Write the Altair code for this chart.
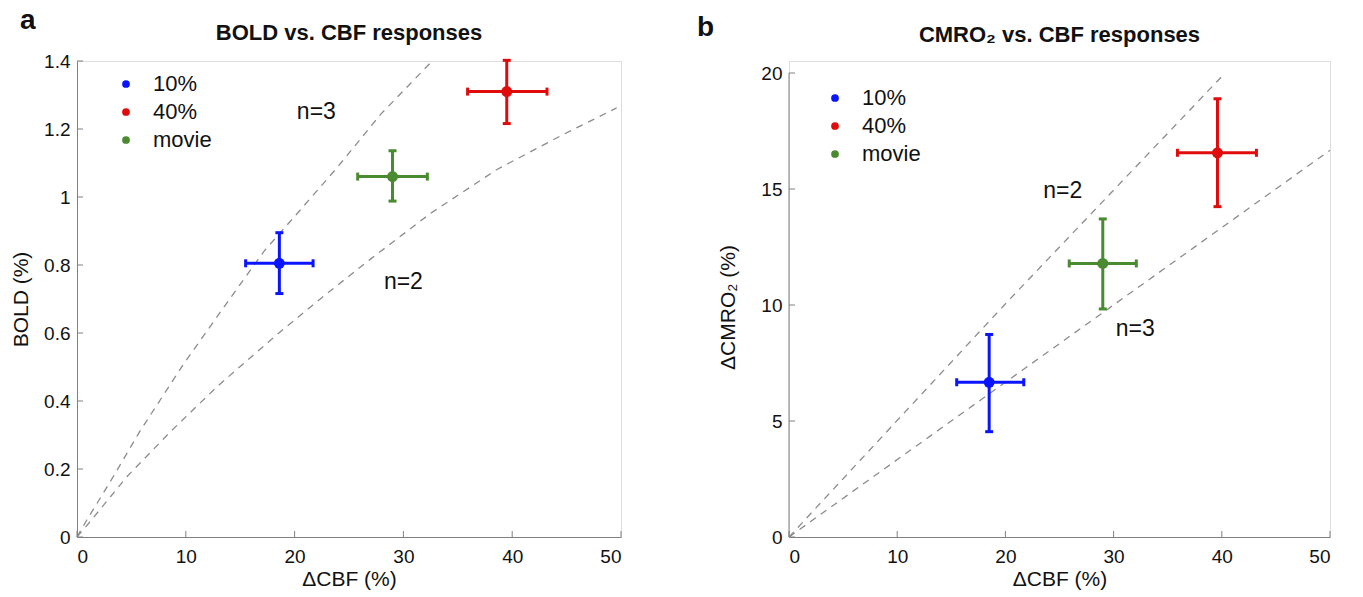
import altair as alt
import pandas as pd

FONT = "Liberation Sans"
AXIS_COLOR = "#808080"
CURVE_COLOR = "#8c8c8c"

conditions = ["10%", "40%", "movie"]
cond_colors = ["#0a14ff", "#e00c0c", "#4a8a30"]

# ---- panel a : BOLD vs CBF ----
a_cbf = [18.6, 39.5, 29.0]
a_cbf_lo = [15.5, 35.9, 25.8]
a_cbf_hi = [21.7, 43.2, 32.2]
a_bold = [0.805, 1.31, 1.06]
a_bold_lo = [0.716, 1.216, 0.988]
a_bold_hi = [0.895, 1.402, 1.136]

a_n3_x = [0, 0.9, 3.1, 5.8, 9.8, 13.9, 17.2, 20.2, 23.9, 27.9, 32.5]
a_n3_y = [0, 0.05, 0.165, 0.312, 0.509, 0.694, 0.841, 0.95, 1.086, 1.243, 1.395]
a_n2_x = [0, 1.2, 4.6, 8.6, 12.9, 18.4, 22.5, 27.0, 32.5, 38.6, 44.7, 49.6]
a_n2_y = [0, 0.045, 0.178, 0.31, 0.443, 0.596, 0.704, 0.818, 0.952, 1.081, 1.184, 1.262]

a_label_text = ["n=3", "n=2"]
a_label_x = [22.0, 30.0]
a_label_y = [1.251, 0.749]

a_xticks = [0, 10, 20, 30, 40, 50]
a_yticks = [0, 0.2, 0.4, 0.6, 0.8, 1.0, 1.2, 1.4]

# ---- panel b : CMRO2 vs CBF ----
b_cbf = [18.5, 39.6, 29.0]
b_cbf_lo = [15.5, 35.9, 25.9]
b_cbf_hi = [21.7, 43.2, 32.1]
b_cmro2 = [6.67, 16.56, 11.79]
b_cmro2_lo = [4.54, 14.24, 9.83]
b_cmro2_hi = [8.73, 18.89, 13.71]

b_n2_x = [0, 20.1, 40.1]
b_n2_y = [0, 10.1, 19.9]
b_n3_x = [0, 29.0, 50.0]
b_n3_y = [0, 9.67, 16.67]

b_label_text = ["n=2", "n=3"]
b_label_x = [25.3, 32.0]
b_label_y = [14.9, 8.97]

b_xticks = [0, 10, 20, 30, 40, 50]
b_yticks = [0, 5, 10, 15, 20]


def panel(cbf, cbf_lo, cbf_hi, val, val_lo, val_hi, curves, labels,
          xticks, yticks, ydomain, W, H, xtitle, ytitle, title, title_dy,
          letter, letter_x, letter_y, legend_x, legend_y, ytitle_pad,
          draw_yline, yformat, ytitle_y):
    pts = pd.DataFrame({"cond": conditions, "x": cbf, "xlo": cbf_lo, "xhi": cbf_hi,
                        "y": val, "ylo": val_lo, "yhi": val_hi})
    rows = []
    for name, xs, ys in curves:
        for i, (xx, yy) in enumerate(zip(xs, ys)):
            rows.append({"curve": name, "x": xx, "y": yy, "o": i})
    cdf = pd.DataFrame(rows)
    ldf = pd.DataFrame({"t": labels[0], "x": labels[1], "y": labels[2]})

    xscale = alt.Scale(domain=[xticks[0], xticks[-1]], nice=False, zero=False)
    yscale = alt.Scale(domain=ydomain, nice=False, zero=False)
    xaxis = alt.Axis(values=xticks, format="d", tickSize=0, grid=False,
                     domainColor=AXIS_COLOR, labelFontSize=19, labelColor="#111111",
                     labelPadding=10, titleFontSize=21, titleFontWeight="normal",
                     titleColor="#111111", titlePadding=2, labelFont=FONT, titleFont=FONT)
    yaxis = alt.Axis(values=yticks, format=yformat, tickSize=0, grid=False,
                     domain=not draw_yline,
                     domainColor=AXIS_COLOR, labelFontSize=19, labelColor="#111111",
                     labelPadding=7, titleFontSize=21, titleFontWeight="normal",
                     titleColor="#111111", titlePadding=ytitle_pad, labelFont=FONT,
                     titleFont=FONT, titleY=ytitle_y)
    X = alt.X("x:Q", scale=xscale, axis=xaxis, title=xtitle)
    Y = alt.Y("y:Q", scale=yscale, axis=yaxis, title=ytitle)
    XLO = alt.X("xlo:Q", scale=xscale, axis=xaxis, title=xtitle)
    XHI = alt.X("xhi:Q", scale=xscale, axis=xaxis, title=xtitle)
    YLO = alt.Y("ylo:Q", scale=yscale, axis=yaxis, title=ytitle)
    YHI = alt.Y("yhi:Q", scale=yscale, axis=yaxis, title=ytitle)

    cscale = alt.Scale(domain=conditions, range=cond_colors)
    nocolor = alt.Color("cond:N", scale=cscale, legend=None)
    color = alt.Color("cond:N", scale=cscale,
                      legend=alt.Legend(title=None, orient="none", legendX=legend_x,
                                        legendY=legend_y, symbolType="circle",
                                        symbolSize=60, symbolStrokeWidth=0,
                                        symbolOpacity=1,
                                        labelFontSize=22, labelFont=FONT,
                                        labelColor="#111111", labelOffset=16,
                                        rowPadding=6, padding=0))

    lines = alt.Chart(cdf).mark_line(color=CURVE_COLOR, strokeWidth=1.3,
                                     strokeDash=[7, 6]).encode(
        x=X, y=Y, detail="curve:N", order="o:Q")

    xbar = alt.Chart(pts).mark_rule(strokeWidth=3).encode(
        x=XLO, x2="xhi:Q", y=Y, color=nocolor)
    ybar = alt.Chart(pts).mark_rule(strokeWidth=3).encode(
        x=X, y=YLO, y2="yhi:Q", color=nocolor)
    xcap_lo = alt.Chart(pts).mark_tick(orient="vertical", size=8, thickness=3, opacity=1).encode(
        x=XLO, y=Y, color=nocolor)
    xcap_hi = alt.Chart(pts).mark_tick(orient="vertical", size=8, thickness=3, opacity=1).encode(
        x=XHI, y=Y, color=nocolor)
    ycap_lo = alt.Chart(pts).mark_tick(orient="horizontal", size=8, thickness=3, opacity=1).encode(
        x=X, y=YLO, color=nocolor)
    ycap_hi = alt.Chart(pts).mark_tick(orient="horizontal", size=8, thickness=3, opacity=1).encode(
        x=X, y=YHI, color=nocolor)
    dots = alt.Chart(pts).mark_circle(size=120, opacity=1).encode(x=X, y=Y, color=color)

    txt = alt.Chart(ldf).mark_text(fontSize=23, font=FONT, color="#111111",
                                   align="center", baseline="middle").encode(
        x=X, y=Y, text="t:N")

    xt = alt.Chart(pd.DataFrame({"x": xticks})).mark_rule(color=AXIS_COLOR, strokeWidth=1).encode(
        x=X, y=alt.value(H), y2=alt.value(H - 6))
    yt = alt.Chart(pd.DataFrame({"y": yticks})).mark_rule(color=AXIS_COLOR, strokeWidth=1).encode(
        y=Y, x=alt.value(0), x2=alt.value(6))

    letter_mark = alt.Chart(pd.DataFrame({"t": [letter]})).mark_text(
        fontSize=28, fontWeight="bold", font=FONT, color="#111111",
        align="left", baseline="alphabetic").encode(
        text="t:N", x=alt.value(letter_x), y=alt.value(letter_y))

    layers = [lines, xt, yt]
    if draw_yline:
        ydf = pd.DataFrame({"y": [yticks[0]], "y2": [yticks[-1]]})
        layers.append(alt.Chart(ydf).mark_rule(color=AXIS_COLOR, strokeWidth=1).encode(
            x=alt.value(0), y=Y, y2="y2:Q"))
    layers += [xbar, ybar, xcap_lo, xcap_hi, ycap_lo, ycap_hi, dots, txt, letter_mark]

    return alt.layer(*layers).resolve_scale(color="independent").properties(
        width=W, height=H,
        title=alt.Title(title, fontSize=22, fontWeight="bold", font=FONT,
                        color="#111111", offset=16, dy=title_dy, frame="group"))


left = panel(a_cbf, a_cbf_lo, a_cbf_hi, a_bold, a_bold_lo, a_bold_hi,
             [("n3", a_n3_x, a_n3_y), ("n2", a_n2_x, a_n2_y)],
             (a_label_text, a_label_x, a_label_y),
             a_xticks, a_yticks, [0, 1.4], 544, 476,
             "ΔCBF (%)", "BOLD (%)", "BOLD vs. CBF responses", 54,
             "a", -57, -32, 38, 12, 12, False, "~g", 238)

b_top = 20 * 476 / 464
right = panel(b_cbf, b_cbf_lo, b_cbf_hi, b_cmro2, b_cmro2_lo, b_cmro2_hi,
              [("n2", b_n2_x, b_n2_y), ("n3", b_n3_x, b_n3_y)],
              (b_label_text, b_label_x, b_label_y),
              b_xticks, b_yticks, [0, b_top], 541, 476,
              "ΔCBF (%)", "ΔCMRO₂ (%)", "CMRO₂ vs. CBF responses", 49,
              "b", -92, -25, 35, 26, 22, True, "d", 246)

chart = alt.hconcat(left, right, spacing=168, bounds="flush").configure_view(
    stroke=None).configure(font=FONT).properties(
    padding={"left": 2, "top": -2, "right": 5, "bottom": 5})

chart.save("out.html", embed_options={"renderer": "svg", "actions": False})
